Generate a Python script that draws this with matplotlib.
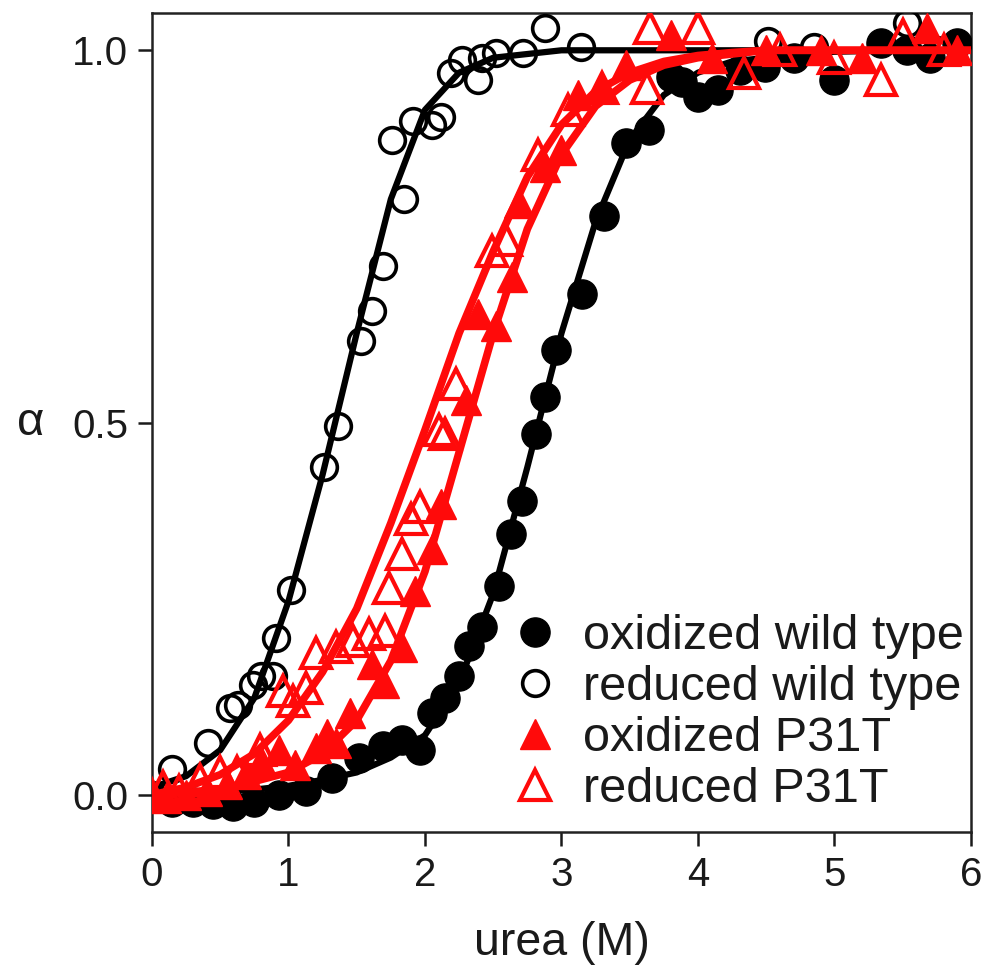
import matplotlib
matplotlib.use("Agg")
import matplotlib.pyplot as plt
from matplotlib.lines import Line2D

plt.rcParams['font.family'] = ['Liberation Sans', 'DejaVu Sans']

# ---------------- data ----------------
# oxidized wild type (filled black circles)
ox_wt_x = [0.0, 0.15, 0.3, 0.45, 0.59, 0.75, 0.93, 1.13, 1.32, 1.52, 1.69, 1.83,
           1.96, 2.05, 2.15, 2.25, 2.32, 2.42, 2.54, 2.63, 2.71, 2.81, 2.88, 2.96,
           3.15, 3.31, 3.47, 3.64, 3.80, 3.88, 4.00, 4.15, 4.31, 4.49, 4.70, 5.00,
           5.34, 5.53, 5.70, 5.90]
ox_wt_y = [-0.005, -0.01, -0.01, -0.012, -0.015, -0.01, 0.0, 0.005, 0.023, 0.05,
           0.066, 0.073, 0.06, 0.11, 0.13, 0.16, 0.2, 0.225, 0.28, 0.35, 0.395,
           0.485, 0.534, 0.597, 0.673, 0.778, 0.875, 0.893, 0.964, 0.957, 0.937,
           0.946, 0.973, 0.977, 0.99, 0.96, 1.01, 1.0, 0.99, 1.01]

# reduced wild type (open black circles)
red_wt_x = [0.0, 0.15, 0.41, 0.57, 0.63, 0.74, 0.80, 0.89, 0.91, 1.02, 1.26, 1.36,
            1.53, 1.61, 1.69, 1.76, 1.85, 1.91, 2.05, 2.12, 2.19, 2.27, 2.39, 2.42,
            2.52, 2.72, 2.88, 3.14, 4.51, 4.85, 5.53, 5.75]
red_wt_y = [0.0, 0.035, 0.07, 0.117, 0.12, 0.147, 0.16, 0.16, 0.21, 0.275, 0.44,
            0.495, 0.61, 0.65, 0.71, 0.88, 0.80, 0.905, 0.90, 0.91, 0.97, 0.987,
            0.96, 0.99, 0.996, 0.997, 1.03, 1.004, 1.013, 1.005, 1.036, 1.0]

# oxidized P31T (filled red triangles)
ox_p_x = [0.0, 0.1, 0.25, 0.4, 0.55, 0.69, 0.8, 0.93, 1.05, 1.2, 1.28, 1.35, 1.45,
          1.61, 1.70, 1.83, 1.93, 2.05, 2.12, 2.30, 2.39, 2.52, 2.64, 2.69, 2.88,
          3.0, 3.12, 3.3, 3.47, 3.8, 4.1, 4.5, 4.9, 5.2, 5.68, 5.9]
ox_p_y = [0.0, -0.005, 0.0, 0.005, 0.015, 0.028, 0.045, 0.06, 0.04, 0.063, 0.082,
          0.07, 0.11, 0.176, 0.15, 0.198, 0.274, 0.33, 0.39, 0.53, 0.646, 0.63,
          0.695, 0.795, 0.843, 0.866, 0.94, 0.95, 0.98, 1.02, 0.99, 1.0, 1.0, 0.99,
          1.03, 1.0]

# reduced P31T (open red triangles)
red_p_x = [0.0, 0.08, 0.2, 0.35, 0.5, 0.62, 0.79, 0.96, 1.03, 1.13, 1.20, 1.35,
           1.47, 1.59, 1.71, 1.74, 1.83, 1.90, 1.96, 2.10, 2.15, 2.23, 2.49, 2.59,
           2.83, 3.05, 3.3, 3.63, 3.65, 4.0, 4.34, 4.6, 5.0, 5.34, 5.5, 5.8]
red_p_y = [0.0, 0.01, 0.005, 0.02, 0.03, 0.03, 0.06, 0.14, 0.126, 0.144, 0.19,
           0.198, 0.207, 0.216, 0.22, 0.278, 0.324, 0.37, 0.386, 0.49, 0.485, 0.552,
           0.73, 0.745, 0.86, 0.92, 0.95, 0.95, 1.03, 1.03, 0.97, 1.0, 0.99, 0.96,
           1.02, 1.0]

# fitted curves at these urea values
fit_x = [0.0, 0.25, 0.5, 0.75, 1.0, 1.25, 1.5, 1.75, 2.0, 2.25, 2.5, 2.75, 3.0,
         3.25, 3.5, 3.75, 4.0, 4.25, 4.5, 5.0, 5.5, 6.0]
fit_ox_wt = [0.0, 0.002, 0.004, 0.007, 0.012, 0.02, 0.03, 0.05, 0.08, 0.15, 0.27,
             0.44, 0.62, 0.77, 0.88, 0.94, 0.97, 0.985, 0.99, 0.998, 1.0, 1.0]
fit_red_wt = [0.01, 0.025, 0.06, 0.13, 0.26, 0.43, 0.62, 0.80, 0.92, 0.97, 0.99,
              0.995, 1.0, 1.0, 1.0, 1.0, 1.0, 1.0, 1.0, 1.0, 1.0, 1.0]
fit_ox_p = [0.0, 0.003, 0.008, 0.018, 0.03, 0.055, 0.10, 0.18, 0.30, 0.46, 0.62,
            0.76, 0.86, 0.925, 0.96, 0.98, 0.99, 0.995, 1.0, 1.0, 1.0, 1.0]
fit_red_p = [0.0, 0.01, 0.027, 0.055, 0.10, 0.165, 0.25, 0.365, 0.49, 0.62, 0.73,
             0.83, 0.90, 0.945, 0.97, 0.985, 0.993, 0.997, 1.0, 1.0, 1.0, 1.0]

labels = ['oxidized wild type', 'reduced wild type', 'oxidized P31T', 'reduced P31T']
x_ticks = [0, 1, 2, 3, 4, 5, 6]
y_ticks = [0.0, 0.5, 1.0]
y_ticklabels = ['0.0', '0.5', '1.0']

RED = '#ff0a0a'
BLK = '#000000'
TXT = '#1a1a1a'

fig = plt.figure(figsize=(9.9, 9.68), dpi=100)
ax = fig.add_axes([0.1535, 0.1405, 0.8273, 0.846])

# black curves and markers
ax.plot(fit_x, fit_red_wt, color=BLK, lw=4.5, zorder=2)
ax.plot(red_wt_x, red_wt_y, 'o', ms=18.5, mfc='none', mec=BLK, mew=2.6, zorder=3)
ax.plot(fit_x, fit_ox_wt, color=BLK, lw=4.5, zorder=2)
ax.plot(ox_wt_x, ox_wt_y, 'o', ms=21, mfc=BLK, mec=BLK, zorder=3)

# red curves and markers
ax.plot(fit_x, fit_red_p, color=RED, lw=5.5, zorder=4)
ax.plot(fit_x, fit_ox_p, color=RED, lw=5.5, zorder=4)
ax.plot(red_p_x, red_p_y, '^', ms=21, mfc='none', mec=RED, mew=3, zorder=5)
ax.plot(ox_p_x, ox_p_y, '^', ms=21, mfc=RED, mec=RED, zorder=5)

ax.set_xlim(0, 6)
ax.set_ylim(-0.05, 1.05)
ax.set_xticks(x_ticks)
ax.set_yticks(y_ticks)
ax.set_yticklabels(y_ticklabels)
ax.tick_params(direction='out', length=10, width=1.8, labelsize=29,
               colors=TXT, pad=7)
for s in ax.spines.values():
    s.set_linewidth(1.8)
    s.set_color('#222222')

ax.set_xlabel('urea (M)', fontsize=33.5, color=TXT, labelpad=20)
ax.set_ylabel('α', fontsize=34, color=TXT, rotation=0, va='center', ha='center')
ax.yaxis.set_label_coords(-0.148, 0.5)

handles = [
    Line2D([], [], ls='none', marker='o', ms=21, mfc=BLK, mec=BLK),
    Line2D([], [], ls='none', marker='o', ms=18.5, mfc='none', mec=BLK, mew=2.6),
    Line2D([], [], ls='none', marker='^', ms=21, mfc=RED, mec=RED),
    Line2D([], [], ls='none', marker='^', ms=21, mfc='none', mec=RED, mew=3),
]
leg = ax.legend(handles, labels, loc='lower left', bbox_to_anchor=(0.438, 0.025),
                frameon=False, fontsize=35, handlelength=1.0, handletextpad=0.48,
                labelspacing=0.12, borderpad=0, borderaxespad=0)
for t in leg.get_texts():
    t.set_color(TXT)

fig.savefig('out.png', dpi=100)
